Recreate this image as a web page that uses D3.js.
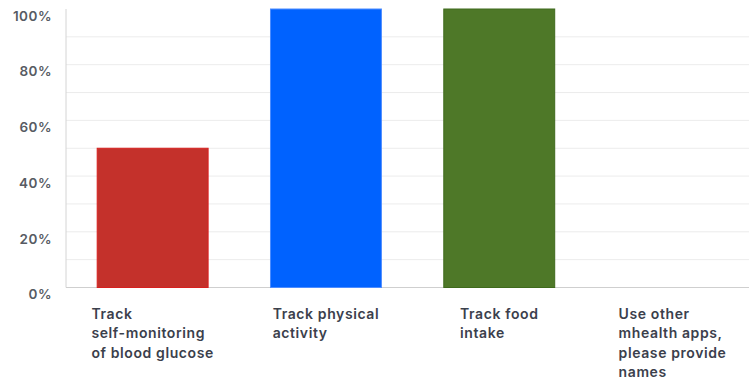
<!DOCTYPE html>
<html>
<head>
<meta charset="utf-8">
<script src="https://cdn.jsdelivr.net/npm/d3@7"></script>
<style>
  html, body { margin: 0; padding: 0; background: #fff; }
  svg { display: block; }
</style>
</head>
<body>
<svg id="chart" width="749" height="383"></svg>
<script>
const categories = [
  ["Track", "self-monitoring", "of blood glucose"],
  ["Track physical", "activity"],
  ["Track food", "intake"],
  ["Use other", "mhealth apps,", "please provide", "names"]
];
const values = [50, 100, 100, 0];
const colors = ["#c4312b", "#0062ff", "#4e7828"];
const strokes = ["#d8201f", "#4d8cff", "#3f6a1c"];
const gridTicks = d3.range(10, 100, 10);
const labelTicks = [0, 20, 40, 60, 80, 100];

const svg = d3.select("#chart");
const plotLeft = 66, plotTop = 9, plotBottom = 287.5;
const x = d3.scaleBand().domain(d3.range(categories.length))
  .range([plotLeft, plotLeft + 4 * 173.3]).paddingInner(0.36).paddingOuter(0.18);
const y = d3.scaleLinear().domain([0, 100]).range([plotBottom, plotTop]);

// horizontal gridlines
svg.append("g").selectAll("line").data(gridTicks).join("line")
  .attr("x1", plotLeft).attr("x2", 749)
  .attr("y1", d => y(d)).attr("y2", d => y(d))
  .attr("stroke", "#ececec").attr("stroke-width", 1);

// axes
svg.append("line").attr("x1", plotLeft).attr("x2", plotLeft).attr("y1", plotTop).attr("y2", plotBottom)
  .attr("stroke", "#d4d4d4");
svg.append("line").attr("x1", plotLeft).attr("x2", 749).attr("y1", plotBottom).attr("y2", plotBottom)
  .attr("stroke", "#cfcfcf");

// y tick labels
svg.append("g").selectAll("text").data(labelTicks).join("text")
  .attr("x", 52).attr("y", d => y(d) + 7).attr("dy", "0.35em")
  .attr("text-anchor", "end")
  .attr("font-family", "Inter, 'DejaVu Sans', sans-serif")
  .attr("font-size", 13.5).attr("font-weight", 600)
  .attr("letter-spacing", 0.5)
  .attr("fill", "#575b63")
  .text(d => d + "%");

// bars
svg.append("g").selectAll("rect").data(values).join("rect")
  .attr("x", (d, i) => x(i)).attr("width", x.bandwidth())
  .attr("y", d => y(d)).attr("height", d => plotBottom - y(d))
  .attr("fill", (d, i) => colors[i] || "none")
  .attr("stroke", (d, i) => d > 0 ? strokes[i] : "none")
  .attr("stroke-width", 1);

// category labels: left-aligned lines, block centred under each band
const labels = svg.append("g")
  .attr("font-family", "Inter, 'DejaVu Sans', sans-serif")
  .attr("font-size", 14).attr("font-weight", 600)
  .attr("letter-spacing", 0.6)
  .attr("fill", "#3b404c");
categories.forEach((lines, i) => {
  const g = labels.append("g");
  const t = g.append("text").attr("y", 318.5);
  lines.forEach((ln, j) => {
    t.append("tspan").attr("x", 0).attr("dy", j === 0 ? 0 : 19.5).text(ln);
  });
  const w = t.node().getBBox().width;
  const cx = x(i) + x.bandwidth() / 2;
  g.attr("transform", `translate(${cx - w / 2},0)`);
});
</script>
</body>
</html>
